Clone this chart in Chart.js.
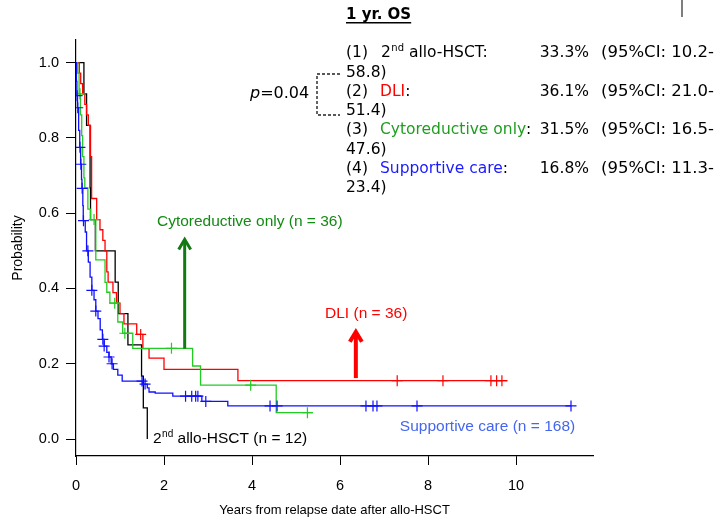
<!DOCTYPE html>
<html>
<head>
<meta charset="utf-8">
<script src="https://cdn.jsdelivr.net/npm/chart.js@4.4.1/dist/chart.umd.min.js"></script>
<style>
  html, body { margin: 0; padding: 0; background: #fff; }
  canvas { display: block; }
</style>
</head>
<body>
<canvas id="kmChart" width="719" height="522"></canvas>
<script>
// Kaplan-Meier curves: event times (years) and survival after each step
const hsctTimes = [0, 0.18, 0.24, 0.32, 0.33, 0.44, 0.89, 0.96, 1.18, 1.49, 1.53, 1.62];
const hsctSurv  = [1, 0.917, 0.833, 0.667, 0.583, 0.5, 0.417, 0.333, 0.25, 0.167, 0.083, 0];
const hsctCensor = [];

const dliTimes = [0, 0.075, 0.107, 0.15, 0.2, 0.24, 0.28, 0.33, 0.355, 0.47, 0.545, 0.61, 0.66,
  0.7, 0.73, 0.84, 0.92, 1.0, 1.09, 1.38, 1.52, 1.66, 2.0, 3.68, 9.8];
const dliSurv  = [1, 0.972, 0.944, 0.917, 0.889, 0.861, 0.833, 0.75, 0.639, 0.583, 0.556, 0.528, 0.5,
  0.444, 0.417, 0.389, 0.361, 0.333, 0.306, 0.278, 0.24, 0.215, 0.185, 0.155, 0.155];
const dliCensor = [1.47, 7.3, 8.34, 9.43, 9.56, 9.68];

const cytoTimes = [0, 0.04, 0.07, 0.1, 0.13, 0.15, 0.18, 0.2, 0.27, 0.33, 0.45, 0.66, 0.7, 0.77,
  0.95, 1.06, 1.29, 2.65, 2.83, 4.55, 5.38];
const cytoSurv  = [1, 0.972, 0.917, 0.861, 0.806, 0.75, 0.694, 0.667, 0.611, 0.583, 0.476, 0.416, 0.39, 0.361,
  0.311, 0.281, 0.241, 0.194, 0.143, 0.07, 0.07];
const cytoCensor = [0.09, 0.41, 0.88, 1.11, 2.17, 3.97, 5.26];

const suppTimes = [0, 0.01, 0.02, 0.035, 0.06, 0.085, 0.105, 0.125, 0.135, 0.155, 0.165, 0.21, 0.24,
  0.28, 0.32, 0.36, 0.41, 0.45, 0.5, 0.55, 0.6, 0.64, 0.7, 0.75, 0.8, 0.85, 0.95, 1.05,
  1.52, 1.62, 1.66, 1.8, 2.2, 2.86, 3.45, 11.25];
const suppSurv  = [1, 0.95, 0.912, 0.88, 0.82, 0.775, 0.73, 0.69, 0.666, 0.62, 0.58, 0.55, 0.5,
  0.47, 0.43, 0.395, 0.37, 0.34, 0.32, 0.29, 0.265, 0.247, 0.23, 0.218, 0.2, 0.185, 0.17, 0.154,
  0.146, 0.136, 0.125, 0.122, 0.114, 0.1, 0.088, 0.088];
const suppCensor = [0.025, 0.04, 0.09, 0.11, 0.14, 0.17, 0.27, 0.36, 0.45, 0.61, 0.64, 0.75, 0.82,
  1.5, 1.57, 2.49, 2.63, 2.72, 2.77, 2.95, 4.41, 4.57, 6.59, 6.75, 6.84, 7.75, 11.25];

const xTicks = [0, 2, 4, 6, 8, 10];
const yTicks = [0, 0.2, 0.4, 0.6, 0.8, 1.0];

// 1-year OS table
const osRows = [
  { n: '(1)', label: 'allo-HSCT:', sup: true, color: '#000', pct: '33.3%', lo: '10.2-', hi: '58.8)' },
  { n: '(2)', label: 'DLI', color: '#ff0000', pct: '36.1%', lo: '21.0-', hi: '51.4)' },
  { n: '(3)', label: 'Cytoreductive only', color: '#1f9e1f', pct: '31.5%', lo: '16.5-', hi: '47.6)' },
  { n: '(4)', label: 'Supportive care', color: '#1a1aff', pct: '16.8%', lo: '11.3-', hi: '23.4)' }
];

function toPoints(times, surv) {
  return times.map((t, i) => ({ x: t, y: surv[i] }));
}
function survAt(times, surv, t) {
  let s = surv[0];
  for (let i = 0; i < times.length; i++) if (times[i] <= t) s = surv[i];
  return s;
}
function censorPoints(times, surv, cens) {
  return cens.map(t => ({ x: t, y: survAt(times, surv, t) }));
}

// 'before' in Chart.js = run flat to the next time, then drop
function curve(data, color) {
  return { data, showLine: true, stepped: 'before', borderColor: color, borderWidth: 1.3,
    pointRadius: 0, fill: false };
}
function marks(data, color) {
  return { data, showLine: false, pointStyle: 'cross', pointRadius: 5.5, borderColor: color,
    borderWidth: 1.2, backgroundColor: color };
}

const BLUE = '#1010ff', RED = '#ff0000', GREEN = '#22cc22', BLACK = '#000';

const datasets = [
  curve(toPoints(suppTimes, suppSurv), BLUE),
  marks(censorPoints(suppTimes, suppSurv, suppCensor), BLUE),
  curve(toPoints(cytoTimes, cytoSurv), GREEN),
  marks(censorPoints(cytoTimes, cytoSurv, cytoCensor), GREEN),
  curve(toPoints(dliTimes, dliSurv), RED),
  marks(censorPoints(dliTimes, dliSurv, dliCensor), RED),
  curve(toPoints(hsctTimes, hsctSurv), BLACK),
  marks(censorPoints(hsctTimes, hsctSurv, hsctCensor), BLACK)
];

function arrowUp(ctx, px, yFrom, yTo, color, width, spread, depth) {
  ctx.save();
  ctx.strokeStyle = color;
  ctx.lineWidth = width;
  ctx.lineCap = 'butt';
  ctx.beginPath();
  ctx.moveTo(px, yFrom);
  ctx.lineTo(px, yTo + 2);
  ctx.stroke();
  ctx.lineJoin = 'miter';
  ctx.beginPath();
  ctx.moveTo(px - spread, yTo + depth);
  ctx.lineTo(px, yTo);
  ctx.lineTo(px + spread, yTo + depth);
  ctx.stroke();
  ctx.restore();
}

// text with a raised "nd" after the leading "2"
function drawSecond(ctx, x, y, size, family, rest, color) {
  ctx.fillStyle = color;
  ctx.font = size + 'px ' + family;
  ctx.fillText('2', x, y);
  let w = ctx.measureText('2').width;
  const small = Math.round(size * 0.62);
  ctx.font = small + 'px ' + family;
  ctx.fillText('nd', x + w + 0.5, y - size * 0.3);
  w += ctx.measureText('nd').width + 0.5;
  ctx.font = size + 'px ' + family;
  ctx.fillText(rest, x + w, y);
}

const overlay = {
  id: 'overlay',
  beforeDraw(chart) {
    const ctx = chart.ctx;
    ctx.save();
    ctx.fillStyle = '#fff';
    ctx.fillRect(0, 0, chart.width, chart.height);
    ctx.restore();
  },
  afterDraw(chart) {
    const { ctx, scales: { x, y } } = chart;
    const sans = '"Liberation Sans", Arial, sans-serif';
    const dv = '"DejaVu Sans", Verdana, sans-serif';
    const fs = 15.5;
    ctx.save();

    // arrows pointing at the curves
    arrowUp(ctx, x.getPixelForValue(2.47), y.getPixelForValue(0.24), y.getPixelForValue(0.53),
      '#137a13', 3, 6, 10);
    arrowUp(ctx, x.getPixelForValue(6.36), y.getPixelForValue(0.162), y.getPixelForValue(0.285),
      '#ff0000', 4, 6, 10);

    // group labels
    ctx.textBaseline = 'middle';
    ctx.textAlign = 'left';
    ctx.font = '15.5px ' + sans;
    ctx.fillStyle = '#138a13';
    ctx.fillText('Cytoreductive only (n = 36)', x.getPixelForValue(1.84), y.getPixelForValue(0.578));
    ctx.fillStyle = '#ff0000';
    ctx.fillText('DLI (n = 36)', x.getPixelForValue(5.66), y.getPixelForValue(0.334));
    ctx.fillStyle = '#4466f0';
    ctx.fillText('Supportive care (n = 168)', x.getPixelForValue(7.36), y.getPixelForValue(0.034));
    drawSecond(ctx, x.getPixelForValue(1.75), y.getPixelForValue(0.0), 15.5, sans,
      ' allo-HSCT (n = 12)', '#000');

    // table heading
    ctx.fillStyle = '#000';
    ctx.font = 'bold 15px ' + dv;
    ctx.fillText('1 yr. OS', 346, 15);
    const hw = ctx.measureText('1 yr. OS').width;
    ctx.fillRect(346, 22, hw, 1.5);

    // table rows
    osRows.forEach((r, i) => {
      const yy = 53 + i * 38.5;
      ctx.fillStyle = '#000';
      ctx.textAlign = 'left';
      ctx.font = fs + 'px ' + dv;
      ctx.fillText(r.n, 346, yy);
      if (r.sup) {
        drawSecond(ctx, 381, yy, fs, dv, ' ' + r.label, r.color);
      } else {
        ctx.fillStyle = r.color;
        ctx.fillText(r.label, 380, yy);
        const lw = ctx.measureText(r.label).width;
        ctx.fillStyle = '#000';
        ctx.fillText(':', 380 + lw, yy);
      }
      ctx.fillStyle = '#000';
      ctx.font = fs + 'px ' + dv;
      ctx.textAlign = 'right';
      ctx.fillText(r.pct, 589, yy);
      ctx.font = '16.5px ' + dv;
      ctx.fillText('(95%CI: ' + r.lo, 714, yy);
      ctx.font = fs + 'px ' + dv;
      ctx.textAlign = 'left';
      ctx.fillText(r.hi, 346, yy + 19.5);
    });

    // p-value bracket between (1) and (2)
    ctx.strokeStyle = '#222';
    ctx.lineWidth = 1.4;
    ctx.setLineDash([3, 2]);
    ctx.beginPath();
    ctx.moveTo(340, 74); ctx.lineTo(317, 74); ctx.lineTo(317, 115); ctx.lineTo(340, 115);
    ctx.stroke();
    ctx.setLineDash([]);
    ctx.textAlign = 'left';
    ctx.fillStyle = '#000';
    ctx.font = 'italic 16px ' + dv;
    ctx.fillText('p', 250, 94);
    const pw = ctx.measureText('p').width;
    ctx.font = '16px ' + dv;
    ctx.fillText('=0.04', 250 + pw, 94);

    // small mark at the top edge
    ctx.strokeStyle = '#555';
    ctx.lineWidth = 1.5;
    ctx.beginPath();
    ctx.moveTo(682, 0); ctx.lineTo(682, 17);
    ctx.stroke();

    ctx.restore();
  }
};

const tickFont = { family: '"Liberation Sans", Arial, sans-serif', size: 14.5 };

new Chart(document.getElementById('kmChart'), {
  type: 'scatter',
  data: { datasets },
  plugins: [overlay],
  options: {
    responsive: false,
    animation: false,
    layout: { padding: { left: 0, right: 126, top: 40, bottom: 0 } },
    plugins: { legend: { display: false }, tooltip: { enabled: false } },
    scales: {
      x: {
        type: 'linear',
        min: 0,
        max: 11.75,
        afterBuildTicks: s => { s.ticks = xTicks.map(v => ({ value: v })); },
        afterFit: s => { s.height = 66; },
        grid: { drawOnChartArea: false, drawTicks: true, tickLength: 9, color: '#000', lineWidth: 1 },
        border: { display: true, color: '#000', width: 1.2 },
        ticks: { color: '#000', font: tickFont, padding: 12, maxRotation: 0 },
        title: { display: true, text: 'Years from relapse date after allo-HSCT', color: '#000',
          font: { family: '"Liberation Sans", Arial, sans-serif', size: 13 }, padding: { bottom: 4 } }
      },
      y: {
        type: 'linear',
        min: -0.045,
        max: 1.06,
        afterBuildTicks: s => { s.ticks = yTicks.map(v => ({ value: v })); },
        afterFit: s => { s.width = 76; },
        grid: { drawOnChartArea: false, drawTicks: true, tickLength: 10, color: '#000', lineWidth: 1 },
        border: { display: true, color: '#000', width: 1.2 },
        ticks: { color: '#000', font: tickFont, padding: 7, callback: v => v.toFixed(1) },
        title: { display: true, text: 'Probability', color: '#000',
          font: { family: '"Liberation Sans", Arial, sans-serif', size: 14 }, padding: { top: 10 } }
      }
    }
  }
});
</script>
</body>
</html>
